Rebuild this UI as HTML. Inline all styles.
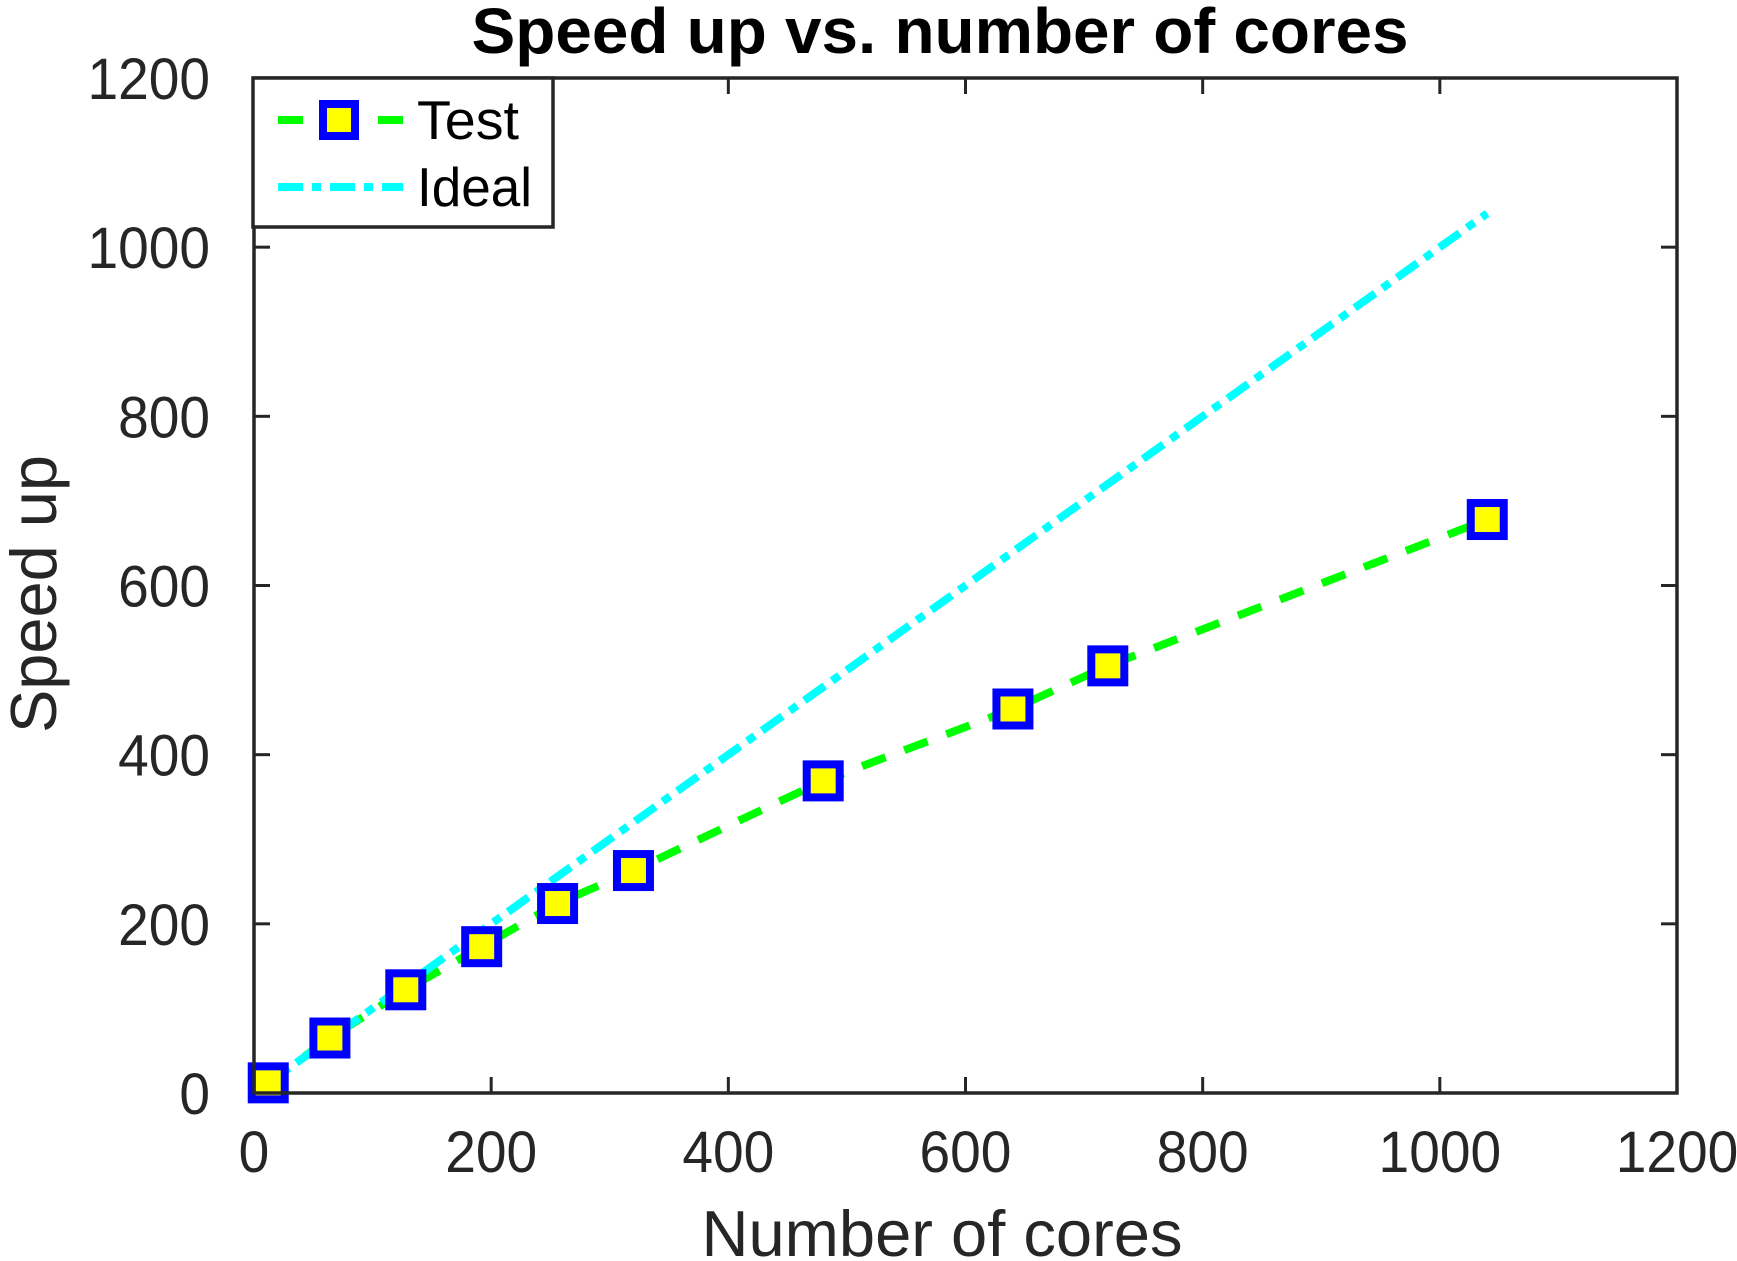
<!DOCTYPE html>
<html><head><meta charset="utf-8"><style>
html,body{margin:0;padding:0;background:#fff;}
svg{display:block;font-family:"Liberation Sans",Arial,sans-serif;}
</style></head><body>
<svg id="chart" width="1737" height="1261" viewBox="0 0 1737 1261" xmlns="http://www.w3.org/2000/svg">
<rect width="1737" height="1261" fill="#fff"/>
<g id="plot"></g>
</svg>
<script>
const cores = [12, 64, 128, 192, 256, 320, 480, 640, 720, 1040];
const testSpeedup = [12, 65, 122, 173, 224, 263, 369, 454, 505, 678];
const idealCores = [0, 1040];
const idealSpeedup = [0, 1040];
const xTicks = [0, 200, 400, 600, 800, 1000, 1200];
const yTicks = [0, 200, 400, 600, 800, 1000, 1200];

const L = 254, R = 1677, T = 78, B = 1093;
const xs = v => L + (v / 1200) * (R - L);
const ys = v => B - (v / 1200) * (B - T);
const NS = 'http://www.w3.org/2000/svg';
const g = document.getElementById('plot');
function mk(tag, attrs, parent) {
  const e = document.createElementNS(NS, tag);
  for (const k in attrs) e.setAttribute(k, attrs[k]);
  (parent || g).appendChild(e);
  return e;
}
const AX = '#262626';

xTicks.forEach(t => {
  const x = xs(t);
  const a = mk('line', {x1: x, x2: x, y1: B, y2: B - 16, stroke: AX, 'stroke-width': 3});
  
  
  const b = mk('line', {x1: x, x2: x, y1: T, y2: T + 16, stroke: AX, 'stroke-width': 3});
  
  
  const tx = mk('text', {x: x, y: 1172, 'text-anchor': 'middle', 'font-size': 58, fill: AX, transform: 'translate(' + x + ',0) scale(0.95,1) translate(' + (-x) + ',0)'});
  tx.textContent = t;
  
  
});
yTicks.forEach(t => {
  const y = ys(t);
  const a = mk('line', {x1: L, x2: L + 16, y1: y, y2: y, stroke: AX, 'stroke-width': 3});
  
  
  const b = mk('line', {x1: R, x2: R - 16, y1: y, y2: y, stroke: AX, 'stroke-width': 3});
  
  
  const tx = mk('text', {x: 210, y: y + 21, 'text-anchor': 'end', 'font-size': 58, fill: AX, transform: 'translate(210,0) scale(0.95,1) translate(-210,0)'});
  tx.textContent = t;
  
  
});

const testPts = cores.map((c, i) => xs(c) + ',' + ys(testSpeedup[i])).join(' ');
const tl = mk('polyline', {points: testPts, fill: 'none', stroke: '#00ff00', 'stroke-width': 8, 'stroke-dasharray': '25 20'});



const idealPts = idealCores.map((c, i) => xs(c) + ',' + ys(idealSpeedup[i])).join(' ');
const il = mk('polyline', {points: idealPts, fill: 'none', stroke: '#00ffff', 'stroke-width': 8, 'stroke-dasharray': '25 9 9 9'});



cores.forEach((c, i) => {
  const x = xs(c), y = ys(testSpeedup[i]);
  const m = mk('rect', {x: x - 16.5, y: y - 16.5, width: 33, height: 33, fill: '#ffff00', stroke: '#0000ff', 'stroke-width': 8});
  
  
});

const box = mk('rect', {x: L, y: T, width: R - L, height: B - T, fill: 'none', stroke: AX, 'stroke-width': 3.5});



const lg = mk('g', {});


mk('rect', {x: 253, y: 78, width: 300, height: 149, fill: '#fff', stroke: AX, 'stroke-width': 3.5}, lg);
mk('line', {x1: 278, x2: 303, y1: 120, y2: 120, stroke: '#00ff00', 'stroke-width': 8}, lg);
mk('line', {x1: 378, x2: 403, y1: 120, y2: 120, stroke: '#00ff00', 'stroke-width': 8}, lg);
mk('rect', {x: 323, y: 104, width: 32, height: 32, fill: '#ffff00', stroke: '#0000ff', 'stroke-width': 8}, lg);
mk('line', {x1: 278, x2: 403, y1: 187, y2: 187, stroke: '#00ffff', 'stroke-width': 8, 'stroke-dasharray': '25 9 9 9'}, lg);
const lt1 = mk('text', {x: 417, y: 139, 'font-size': 55, fill: '#000', textLength: 102, lengthAdjust: 'spacingAndGlyphs'}, lg);
lt1.textContent = 'Test';


const lt2 = mk('text', {x: 417, y: 206, 'font-size': 55, fill: '#000', textLength: 115, lengthAdjust: 'spacingAndGlyphs'}, lg);
lt2.textContent = 'Ideal';



const title = mk('text', {x: 940, y: 53, 'text-anchor': 'middle', 'font-size': 64, 'font-weight': 'bold', fill: '#000', textLength: 937, lengthAdjust: 'spacingAndGlyphs'});
title.textContent = 'Speed up vs. number of cores';


const xl = mk('text', {x: 942, y: 1256, 'text-anchor': 'middle', 'font-size': 65, fill: AX, textLength: 481, lengthAdjust: 'spacingAndGlyphs'});
xl.textContent = 'Number of cores';


const yl = mk('text', {x: 0, y: 0, 'text-anchor': 'middle', 'font-size': 65, fill: AX, transform: 'translate(56,594) rotate(-90)', textLength: 278, lengthAdjust: 'spacingAndGlyphs'});
yl.textContent = 'Speed up';


</script>
</body></html>
